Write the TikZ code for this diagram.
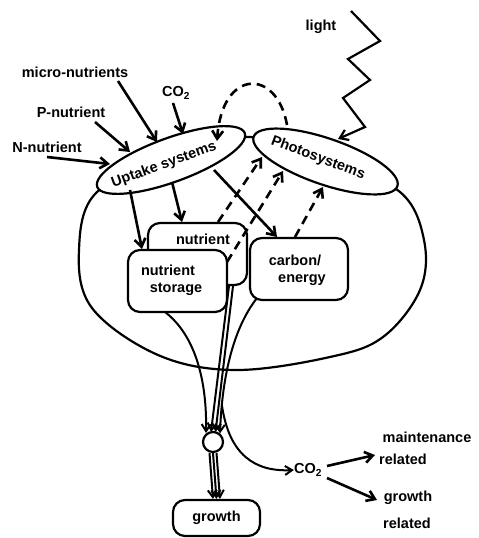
\documentclass[tikz,border=0pt]{standalone}
\usepackage{fontspec}
\setmainfont{Liberation Sans}
\usetikzlibrary{arrows.meta,shapes.geometric}
\begin{document}
\begin{tikzpicture}[x=1pt,y=-1pt,
  every node/.style={font=\bfseries\fontsize{14.5}{16}\selectfont, inner sep=0pt},
  outl/.style={line width=2.2pt},
  arr/.style={line width=2.6pt, -{Straight Barb[length=8pt,width=11pt]}},
  darr/.style={arr, dash pattern=on 9pt off 6pt},
  zig/.style={line width=2.2pt, -{Straight Barb[length=8pt,width=11pt]}},
  thinarr/.style={line width=2pt, -{Straight Barb[length=7pt,width=9pt]}},
  boxs/.style={draw, line width=2.2pt, rounded corners=12pt, fill=white},
  ell/.style={draw, ellipse, line width=2.2pt, fill=white, inner sep=0pt}
]
\useasboundingbox (0,0) rectangle (479,538);

% cell outline
\draw[outl] plot[smooth cycle, tension=0.6] coordinates {(250,137) (175,158) (97,192) (79,250) (92,308) (158,355) (235,370) (330,357) (383,337) (420,290) (424,240) (400,192) (330,162)};

% labels of inputs
\node (mn) at (75,72) {micro-nutrients};
\node (pn) at (71,112) {P-nutrient};
\node (nn) at (47,147) {N-nutrient};
\node (ci) at (176,93) {CO\textsubscript{2}};
\node (li) at (321,27) {light};

% membrane systems
\node[ell, rotate=20, minimum width=157pt, minimum height=44pt] (up) at (171,160) {};
\node[rotate=20] (upt) at (164,165) {Uptake systems};
\node[ell, rotate=-19, minimum width=152pt, minimum height=46pt] (ps) at (325.5,161.5) {};
\node[rotate=-20.5] (pst) at (318,158) {Photosystems};

% boxes
\node[boxs, minimum width=99pt, minimum height=62pt] (nb) at (197.5,254) {};
\node (nbt) at (203,239) {nutrient};
\node[boxs, minimum width=99pt, minimum height=62pt] (st) at (177.5,281) {};
\node (stt1) at (168,270) {nutrient};
\node (stt2) at (176,289) {storage};
\node[boxs, minimum width=98pt, minimum height=62pt] (cb) at (299,269) {};
\node (cbt1) at (295,260) {carbon/};
\node (cbt2) at (302,280) {energy};
\node[boxs, minimum width=87pt, minimum height=36pt] (gr) at (216.5,518) {growth};
\node[draw, circle, line width=2.2pt, minimum size=20pt, fill=white] (circ) at (213,442) {};

% outputs
\node (co) at (308,470) {CO\textsubscript{2}};
\node (mt1) at (427,437) {maintenance};
\node (mt2) at (403,459) {related};
\node (gw1) at (408,498) {growth};
\node (gw2) at (407,523) {related};

% coordinates
\coordinate (mnS) at (118,81);   \coordinate (mnE) at (157,142);
\coordinate (pnS) at (95,122);   \coordinate (pnE) at (130,152);
\coordinate (nnS) at (47,157);   \coordinate (nnE) at (110,164);
\coordinate (ciS) at (173,103);  \coordinate (ciE) at (183,134);
\coordinate (liS) at (351,11);   \coordinate (liE) at (338,139);
\coordinate (psA) at (287,125);  \coordinate (upA) at (217,141);
\coordinate (up1) at (130,190);  \coordinate (st1) at (142,249);
\coordinate (up2) at (172,182);  \coordinate (nb1) at (182,222);
\coordinate (up3) at (214,170);  \coordinate (cb1) at (277,237);
\coordinate (nb2) at (218,222);  \coordinate (ps1) at (262,157);
\coordinate (st2) at (227,262);  \coordinate (ps2) at (283,171);
\coordinate (cb2) at (295,237);  \coordinate (ps3) at (323,187);
\coordinate (stB) at (165,312);
\coordinate (nbB1) at (229,286); \coordinate (nbB2) at (233,286);
\coordinate (cbB) at (257,298);
\coordinate (ci1) at (206,433);  \coordinate (ci2) at (211,432);
\coordinate (ci3) at (215.5,432); \coordinate (ci4) at (220,433.5);
\coordinate (coA) at (327,466);  \coordinate (mtE) at (375,455);
\coordinate (coB) at (327,478);  \coordinate (gwE) at (377,500);

% inputs
\draw[arr] (mnS) -- (mnE);
\draw[arr] (pnS) -- (pnE);
\draw[arr] (nnS) -- (nnE);
\draw[arr] (ciS) -- (ciE);
\draw[zig] (liS) -- (380,41) -- (348,59) -- (370,80) -- (343,98) -- (365,127) -- (liE);

% dashed feedback arc
\draw[darr] (psA) .. controls (277,68) and (222,68) .. (upA);

% uptake to pools
\draw[arr] (up1) -- (st1);
\draw[arr] (up2) -- (nb1);
\draw[arr] (up3) -- (cb1);

% pools to photosystems
\draw[darr] (nb2) -- (ps1);
\draw[darr] (st2) -- (ps2);
\draw[darr] (cb2) -- (ps3);

% pools to the growth node
\draw[thinarr] (stB) .. controls (195,335) and (207,380) .. (ci1);
\draw[thinarr] (nbB1) -- (ci2);
\draw[thinarr] (nbB2) -- (ci3);
\draw[thinarr] (cbB) .. controls (232,330) and (222,380) .. coordinate[pos=0.82] (cbr) (ci4);
\draw[thinarr] (cbr) .. controls (229,455) and (255,472) .. (co.west);

% circle to growth
\draw[thinarr] ([xshift=-3.5pt]circ.south) -- ([xshift=-3.5pt]gr.north);
\draw[thinarr] (circ.south) -- (gr.north);
\draw[thinarr] ([xshift=3.5pt]circ.south) -- ([xshift=3.5pt]gr.north);

% respiration
\draw[arr] (coA) -- (mtE);
\draw[arr] (coB) -- (gwE);
\end{tikzpicture}
\end{document}
